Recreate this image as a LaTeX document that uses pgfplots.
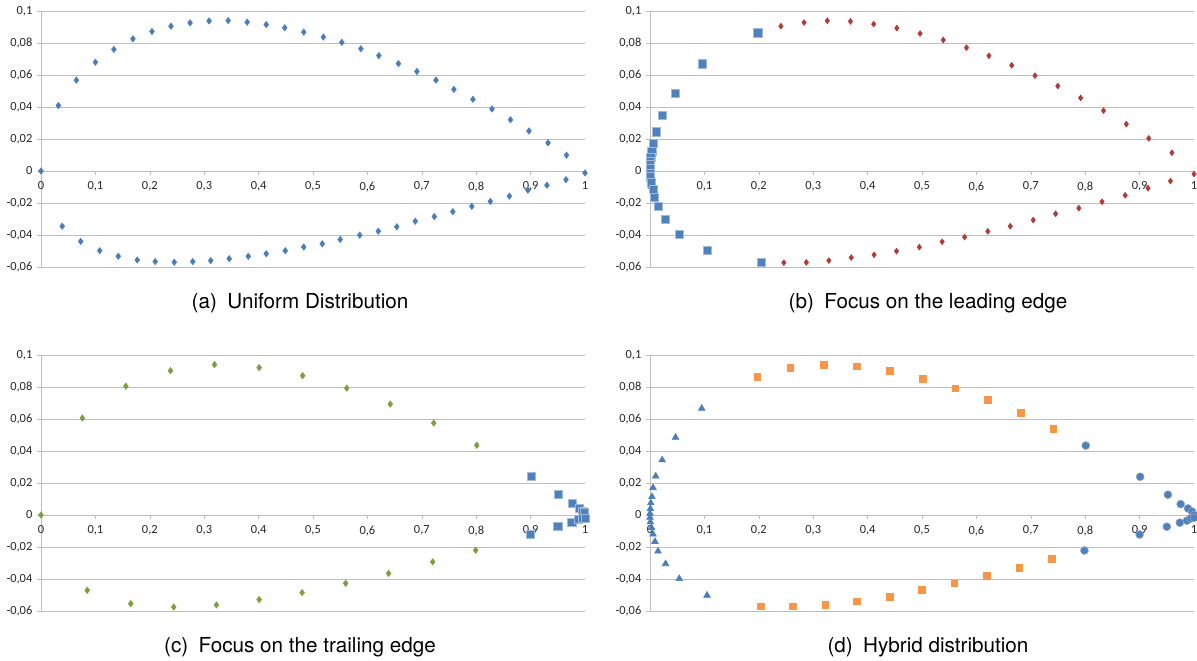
\documentclass[border=0pt]{standalone}
\usepackage{pgfplots}
\pgfplotsset{compat=1.18}
\usepackage{fontspec}
\setmainfont{Carlito}
\newfontfamily\capfont{TeX Gyre Heros}

\definecolor{xlblue}{RGB}{74,126,187}
\definecolor{xlsq}{RGB}{79,129,189}
\definecolor{xlsqedge}{RGB}{160,185,220}
\definecolor{xlred}{RGB}{178,58,55}
\definecolor{xlgreen}{RGB}{128,158,65}
\definecolor{xlorange}{RGB}{247,150,70}
\definecolor{gridgray}{RGB}{190,190,190}

\pgfplotsset{
  foil/.style={
    scale only axis, width=408pt, height=192pt,
    anchor=south west, clip=false,
    xmin=0, xmax=1, ymin=-0.06, ymax=0.1,
    axis x line*=middle, axis y line*=left,
    axis line style={gridgray},
    xtick={0,0.1,...,1.01}, ytick={-0.06,-0.04,...,0.101},
    ymajorgrids, grid style={gridgray, line width=0.5pt},
    tick style={gridgray}, tick align=outside, major tick length=3pt,
    hide obscured x ticks=false, hide obscured y ticks=false,
    tick label style={font=\fontsize{9.3}{11}\selectfont, text=black!85},
    xticklabel style={yshift=-1.5pt},
    /pgf/number format/.cd, use comma, fixed, precision=3, assume math mode=true,
  },
  dia/.style={only marks, mark=diamond*, mark size=2.4pt, mark options={draw=#1, fill=#1}},
  sq/.style={only marks, mark=square*, mark size=3.1pt, mark options={draw=xlsqedge, fill=xlsq, line width=0.5pt}},
}

\begin{document}
\begin{tikzpicture}
% (a) uniform distribution
\begin{axis}[foil, at={(30.75pt,-200.25pt)}]
\addplot[dia=xlblue] coordinates {
(0,0) (0.032,0.0409) (0.065,0.0568) (0.1,0.068) (0.134,0.076) (0.169,0.0826)
(0.204,0.0872) (0.239,0.0905) (0.274,0.0926) (0.309,0.0938) (0.344,0.094)
(0.379,0.093) (0.414,0.0915) (0.448,0.0895) (0.483,0.0868) (0.519,0.0837)
(0.553,0.0804) (0.588,0.0764) (0.621,0.0721) (0.657,0.0671) (0.691,0.0622)
(0.726,0.0568) (0.759,0.051) (0.794,0.0448) (0.829,0.0388) (0.863,0.032)
(0.897,0.025) (0.932,0.0176) (0.966,0.0099) (1.0,-0.0012)
(0.039,-0.0345) (0.073,-0.044) (0.108,-0.0498) (0.142,-0.0533) (0.177,-0.0556)
(0.21,-0.0566) (0.245,-0.057) (0.279,-0.0566) (0.312,-0.056) (0.346,-0.0548)
(0.381,-0.0533) (0.414,-0.0517) (0.449,-0.0498) (0.483,-0.0475) (0.517,-0.0455)
(0.55,-0.0428) (0.586,-0.0401) (0.62,-0.0376) (0.654,-0.0349) (0.688,-0.0314)
(0.723,-0.0285) (0.757,-0.0254) (0.792,-0.0221) (0.826,-0.019) (0.861,-0.0157)
(0.895,-0.012) (0.93,-0.0089) (0.965,-0.0054)
};
\end{axis}
% (b) leading edge
\begin{axis}[foil, at={(487.5pt,-200.25pt)}]
\addplot[dia=xlred, mark size=2.2pt] coordinates {
(0.2406,0.0905) (0.2832,0.0928) (0.3259,0.0939) (0.3685,0.0935) (0.4112,0.0918)
(0.4538,0.0893) (0.4965,0.0859) (0.539,0.0819) (0.5818,0.0771) (0.623,0.072)
(0.665,0.0661) (0.7077,0.0596) (0.7497,0.0531) (0.7916,0.0457) (0.8336,0.0377)
(0.8755,0.0293) (0.9168,0.0204) (0.9594,0.0114) (1.0,-0.0019)
(0.246,-0.0573) (0.2874,-0.0571) (0.3287,-0.056) (0.3699,-0.0541) (0.4119,-0.0524)
(0.4531,-0.0501) (0.4951,-0.0476) (0.537,-0.0442) (0.5783,-0.0413) (0.621,-0.0377)
(0.6622,-0.0345) (0.7044,-0.0307) (0.7456,-0.0267) (0.7883,-0.0232) (0.8309,-0.0192)
(0.8735,-0.0152) (0.9155,-0.0107) (0.9567,-0.0063)
};
\addplot[sq] coordinates {
(0.198,0.0863) (0.0965,0.0669) (0.047,0.0486) (0.0224,0.0347) (0.0112,0.0244)
(0.0056,0.0173) (0.0035,0.0122) (0.0014,0.0084) (0.0007,0.0059) (0,0.0038)
(0,0.0017) (0,-0.0015) (0.0007,-0.0036) (0.002,-0.0074) (0.0056,-0.0116)
(0.0084,-0.0164) (0.0147,-0.0223) (0.0287,-0.0303) (0.0545,-0.0398)
(0.1056,-0.0497) (0.204,-0.0571)
};
\end{axis}
% (c) trailing edge
\begin{axis}[foil, at={(30.75pt,-458.25pt)}]
\addplot[dia=xlgreen] coordinates {
(0,0) (0.076,0.0606) (0.156,0.0805) (0.238,0.0902) (0.319,0.094) (0.401,0.0921)
(0.481,0.0871) (0.562,0.0793) (0.642,0.0693) (0.722,0.0575) (0.801,0.0436)
(0.085,-0.0471) (0.165,-0.0554) (0.244,-0.0575) (0.3225,-0.0562) (0.401,-0.0529)
(0.48,-0.0485) (0.56,-0.0427) (0.639,-0.0365) (0.72,-0.0293) (0.799,-0.022)
(1.0,0.0015) (1.0,-0.001)
};
\addplot[sq] coordinates {
(0.902,0.0241) (0.951,0.0129) (0.977,0.0075) (0.989,0.0041) (0.995,0.0025)
(0.999,0.0015) (0.9,-0.0122) (0.95,-0.0071) (0.976,-0.0044) (0.988,-0.0029)
(0.995,-0.0021) (1.0,-0.0023)
};
\end{axis}
% (d) hybrid
\begin{axis}[foil, at={(487.5pt,-458.25pt)}]
\addplot[only marks, mark=triangle*, mark size=2.9pt, mark options={draw=xlblue, fill=xlblue}] coordinates {
(0.0951,0.0666) (0.0469,0.0485) (0.0224,0.0344) (0.0105,0.0243) (0.0056,0.017)
(0.0035,0.0114) (0.0014,0.0075) (0.0007,0.0039) (0,0.001) (0,-0.0015)
(0.0007,-0.0044) (0.0028,-0.0079) (0.0056,-0.012) (0.0091,-0.0166)
(0.0147,-0.0226) (0.0287,-0.0305) (0.0538,-0.0398) (0.1049,-0.0502)
};
\addplot[only marks, mark=square*, mark size=2.5pt, mark options={draw=xlorange, fill=xlorange}] coordinates {
(0.197,0.0865) (0.258,0.0919) (0.319,0.094) (0.38,0.0929) (0.441,0.09)
(0.501,0.0853) (0.561,0.0793) (0.621,0.072) (0.682,0.0637) (0.741,0.0541)
(0.204,-0.0571) (0.263,-0.0571) (0.322,-0.056) (0.38,-0.054) (0.441,-0.051)
(0.5,-0.0469) (0.559,-0.0427) (0.619,-0.038) (0.679,-0.033) (0.738,-0.0274)
};
\addplot[only marks, mark=*, mark size=3pt, mark options={draw=xlsqedge!70!gray, fill=xlsq, line width=0.4pt}] coordinates {
(0.801,0.0434) (0.901,0.0239) (0.952,0.0127) (0.9755,0.0068) (0.989,0.0041)
(0.9965,0.0021) (1.0,0) (0.7986,-0.0222) (0.9,-0.0122) (0.95,-0.0073)
(0.974,-0.0048) (0.987,-0.0035) (0.994,-0.0021) (1.0,-0.0017)
};
\end{axis}
\node[font=\capfont\fontsize{15.5}{18}\selectfont] at (225pt,-227.25pt) {(a)\enspace Uniform Distribution};
\node[font=\capfont\fontsize{15.5}{18}\selectfont] at (696pt,-227.25pt) {(b)\enspace Focus on the leading edge};
\node[font=\capfont\fontsize{15.5}{18}\selectfont] at (225pt,-485.25pt) {(c)\enspace Focus on the trailing edge};
\node[font=\capfont\fontsize{15.5}{18}\selectfont] at (696pt,-485.25pt) {(d)\enspace Hybrid distribution};
\pgfresetboundingbox
\path[use as bounding box] (0pt,0pt) rectangle (897.75pt,-495.75pt);
\end{tikzpicture}
\end{document}
